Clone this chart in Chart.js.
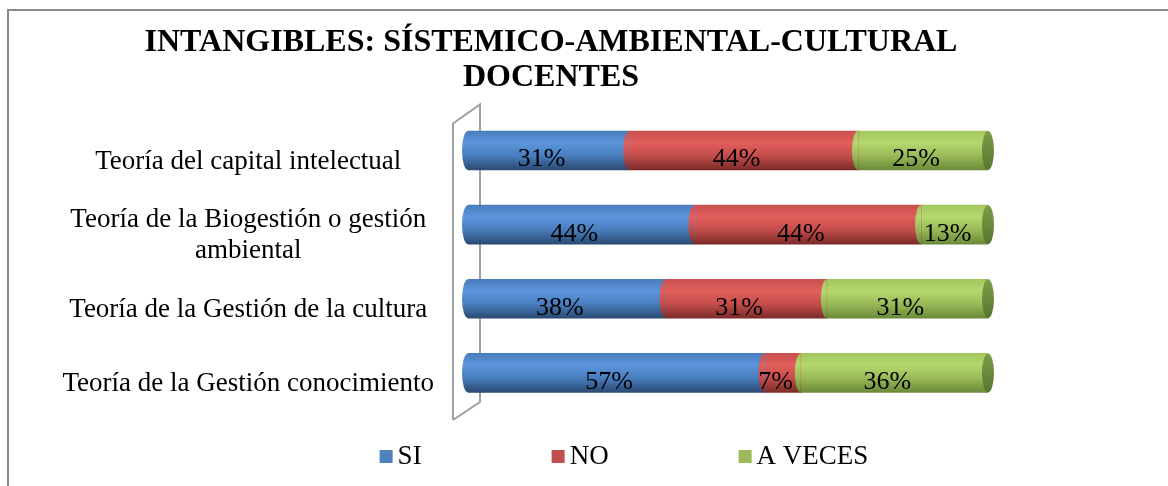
<!DOCTYPE html>
<html><head><meta charset="utf-8">
<script src="https://cdn.jsdelivr.net/npm/chart.js@4/dist/chart.umd.min.js"></script>
<style>html,body{margin:0;padding:0;background:#fff;overflow:hidden}</style>
</head><body>
<canvas id="c" width="1168" height="486"></canvas>
<script>
const titleLines = ['INTANGIBLES: SÍSTEMICO-AMBIENTAL-CULTURAL', 'DOCENTES'];
const categories = [
  ['Teoría del capital intelectual'],
  ['Teoría de la Biogestión o gestión', 'ambiental'],
  ['Teoría de la Gestión de la cultura'],
  ['Teoría de la Gestión conocimiento']
];
const seriesNames = ['SI', 'NO', 'A VECES'];
const siValues = [31, 44, 38, 57];
const noValues = [44, 44, 31, 7];
const aVecesValues = [25, 13, 31, 36];
const seriesColors = ['#4F81BD', '#C0504D', '#9BBB59'];

const FONT = "'Liberation Serif', 'Times New Roman', serif";
const shades = [
  ['#4a7cbc', '#5c96dd', '#4a7fc0', '#2a4a72'],
  ['#c8504e', '#e25e5c', '#c44e4c', '#7c2b29'],
  ['#a2c75f', '#b4d86d', '#9bbb59', '#6a8a38']
];
const capShades = ['#7c9c47', '#6b8a3b', '#58742f'];

const raw = [siValues, noValues, aVecesValues];
const rowSums = categories.map((_, i) => raw.reduce((s, arr) => s + arr[i], 0));

function makeBg(si) {
  return (c) => {
    const chart = c.chart;
    const ys = chart.scales && chart.scales.y;
    if (c.type !== 'data' || !ys || !chart.chartArea) return seriesColors[si];
    const yc = ys.getPixelForValue(c.dataIndex);
    const h = 39;
    const g = chart.ctx.createLinearGradient(0, yc - h / 2, 0, yc + h / 2);
    const s = shades[si];
    g.addColorStop(0, s[0]);
    g.addColorStop(0.3, s[1]);
    g.addColorStop(0.62, s[2]);
    g.addColorStop(1, s[3]);
    return g;
  };
}

const datasets = raw.map((arr, si) => ({
  label: seriesNames[si],
  data: arr.map((v, i) => v / rowSums[i] * 100),
  rawData: arr,
  backgroundColor: makeBg(si),
  borderWidth: 0,
  barThickness: 39
}));

const framePlugin = {
  id: 'frame',
  beforeDraw(chart) {
    const ctx = chart.ctx;
    ctx.save();
    ctx.fillStyle = '#fff';
    ctx.fillRect(0, 0, chart.width, chart.height);
    ctx.strokeStyle = '#8a8a8a';
    ctx.lineWidth = 2;
    ctx.strokeRect(8, 10, chart.width + 100, chart.height + 100);
    ctx.restore();
  },
  beforeDatasetsDraw(chart) {
    const ctx = chart.ctx, a = chart.chartArea;
    const lx = a.left - 15, rx = a.left + 12;
    ctx.save();
    ctx.strokeStyle = '#a0a0a0';
    ctx.lineWidth = 2;
    ctx.beginPath();
    ctx.moveTo(lx, a.bottom + 10);
    ctx.lineTo(lx, a.top + 10);
    ctx.lineTo(rx, a.top - 9);
    ctx.lineTo(rx, a.bottom - 8);
    ctx.lineTo(lx, a.bottom + 10);
    ctx.stroke();
    ctx.restore();
  },
  afterDatasetsDraw(chart) {
    const ctx = chart.ctx;
    const n = chart.data.datasets.length;
    ctx.save();
    for (let d = 0; d < n; d++) {
      const meta = chart.getDatasetMeta(d);
      meta.data.forEach((el) => {
        if (Math.abs(el.x - el.base) < 0.5) return;
        ctx.beginPath();
        ctx.ellipse(el.base, el.y, 6, el.height / 2, 0, Math.PI / 2, Math.PI * 1.5);
        ctx.closePath();
        ctx.fillStyle = el.options.backgroundColor;
        ctx.fill();
      });
    }
    const last = chart.getDatasetMeta(n - 1);
    last.data.forEach((el) => {
      const g = ctx.createLinearGradient(0, el.y - el.height / 2, 0, el.y + el.height / 2);
      g.addColorStop(0, capShades[0]);
      g.addColorStop(0.5, capShades[1]);
      g.addColorStop(1, capShades[2]);
      ctx.beginPath();
      ctx.ellipse(el.x, el.y, 6, el.height / 2, 0, 0, Math.PI * 2);
      ctx.fillStyle = g;
      ctx.fill();
    });
    ctx.fillStyle = '#000';
    ctx.font = '26px ' + FONT;
    ctx.textAlign = 'center';
    ctx.textBaseline = 'alphabetic';
    for (let d = 0; d < n; d++) {
      const meta = chart.getDatasetMeta(d);
      const ds = chart.data.datasets[d];
      meta.data.forEach((el, i) => {
        const cx = (el.x + el.base) / 2 - 7;
        ctx.fillText(ds.rawData[i] + '%', cx, el.y + 16);
      });
    }
    ctx.restore();
  },
  afterDraw(chart) {
    const ctx = chart.ctx;
    ctx.save();
    ctx.font = '27px ' + FONT;
    ctx.textBaseline = 'alphabetic';
    ctx.textAlign = 'left';
    const box = 13, gapBox = 5, gap = 130;
    const items = chart.data.datasets.map((ds, i) => ({
      text: ds.label, color: seriesColors[i],
      w: box + gapBox + ctx.measureText(ds.label).width
    }));
    const total = items.reduce((s, it) => s + it.w, 0) + gap * (items.length - 1);
    let x = 624 - total / 2;
    const base = 464;
    items.forEach((it) => {
      ctx.fillStyle = it.color;
      ctx.fillRect(x, base - 14, box, box);
      ctx.fillStyle = '#000';
      ctx.fillText(it.text, x + box + gapBox, base);
      x += it.w + gap;
    });
    ctx.restore();
  }
};

new Chart(document.getElementById('c'), {
  type: 'bar',
  data: { labels: categories, datasets },
  options: {
    responsive: false,
    animation: false,
    events: [],
    indexAxis: 'y',
    layout: { padding: { left: 0, right: 66, top: 0, bottom: 76 } },
    plugins: {
      legend: { display: false },
      tooltip: { enabled: false },
      title: {
        display: true,
        text: titleLines,
        color: '#000',
        font: { family: FONT, size: 32, weight: 'bold', lineHeight: 1.1 },
        padding: { top: 25, bottom: 18 }
      }
    },
    scales: {
      x: { type: 'linear', stacked: true, min: 0, max: 100, display: false },
      y: {
        type: 'category', stacked: true, display: true,
        grid: { display: false, drawTicks: false },
        border: { display: false },
        ticks: {
          crossAlign: 'center', padding: 34, labelOffset: 11, color: '#000',
          font: { family: FONT, size: 27, lineHeight: 1.15 }
        },
        afterFit(s) { s.width = 468; }
      },
      yR: {
        type: 'linear', position: 'right', display: true,
        grid: { display: false, drawTicks: false },
        border: { display: false },
        ticks: { display: false },
        afterFit(s) { s.width = 114; }
      }
    }
  },
  plugins: [framePlugin]
});
</script>
</body></html>
